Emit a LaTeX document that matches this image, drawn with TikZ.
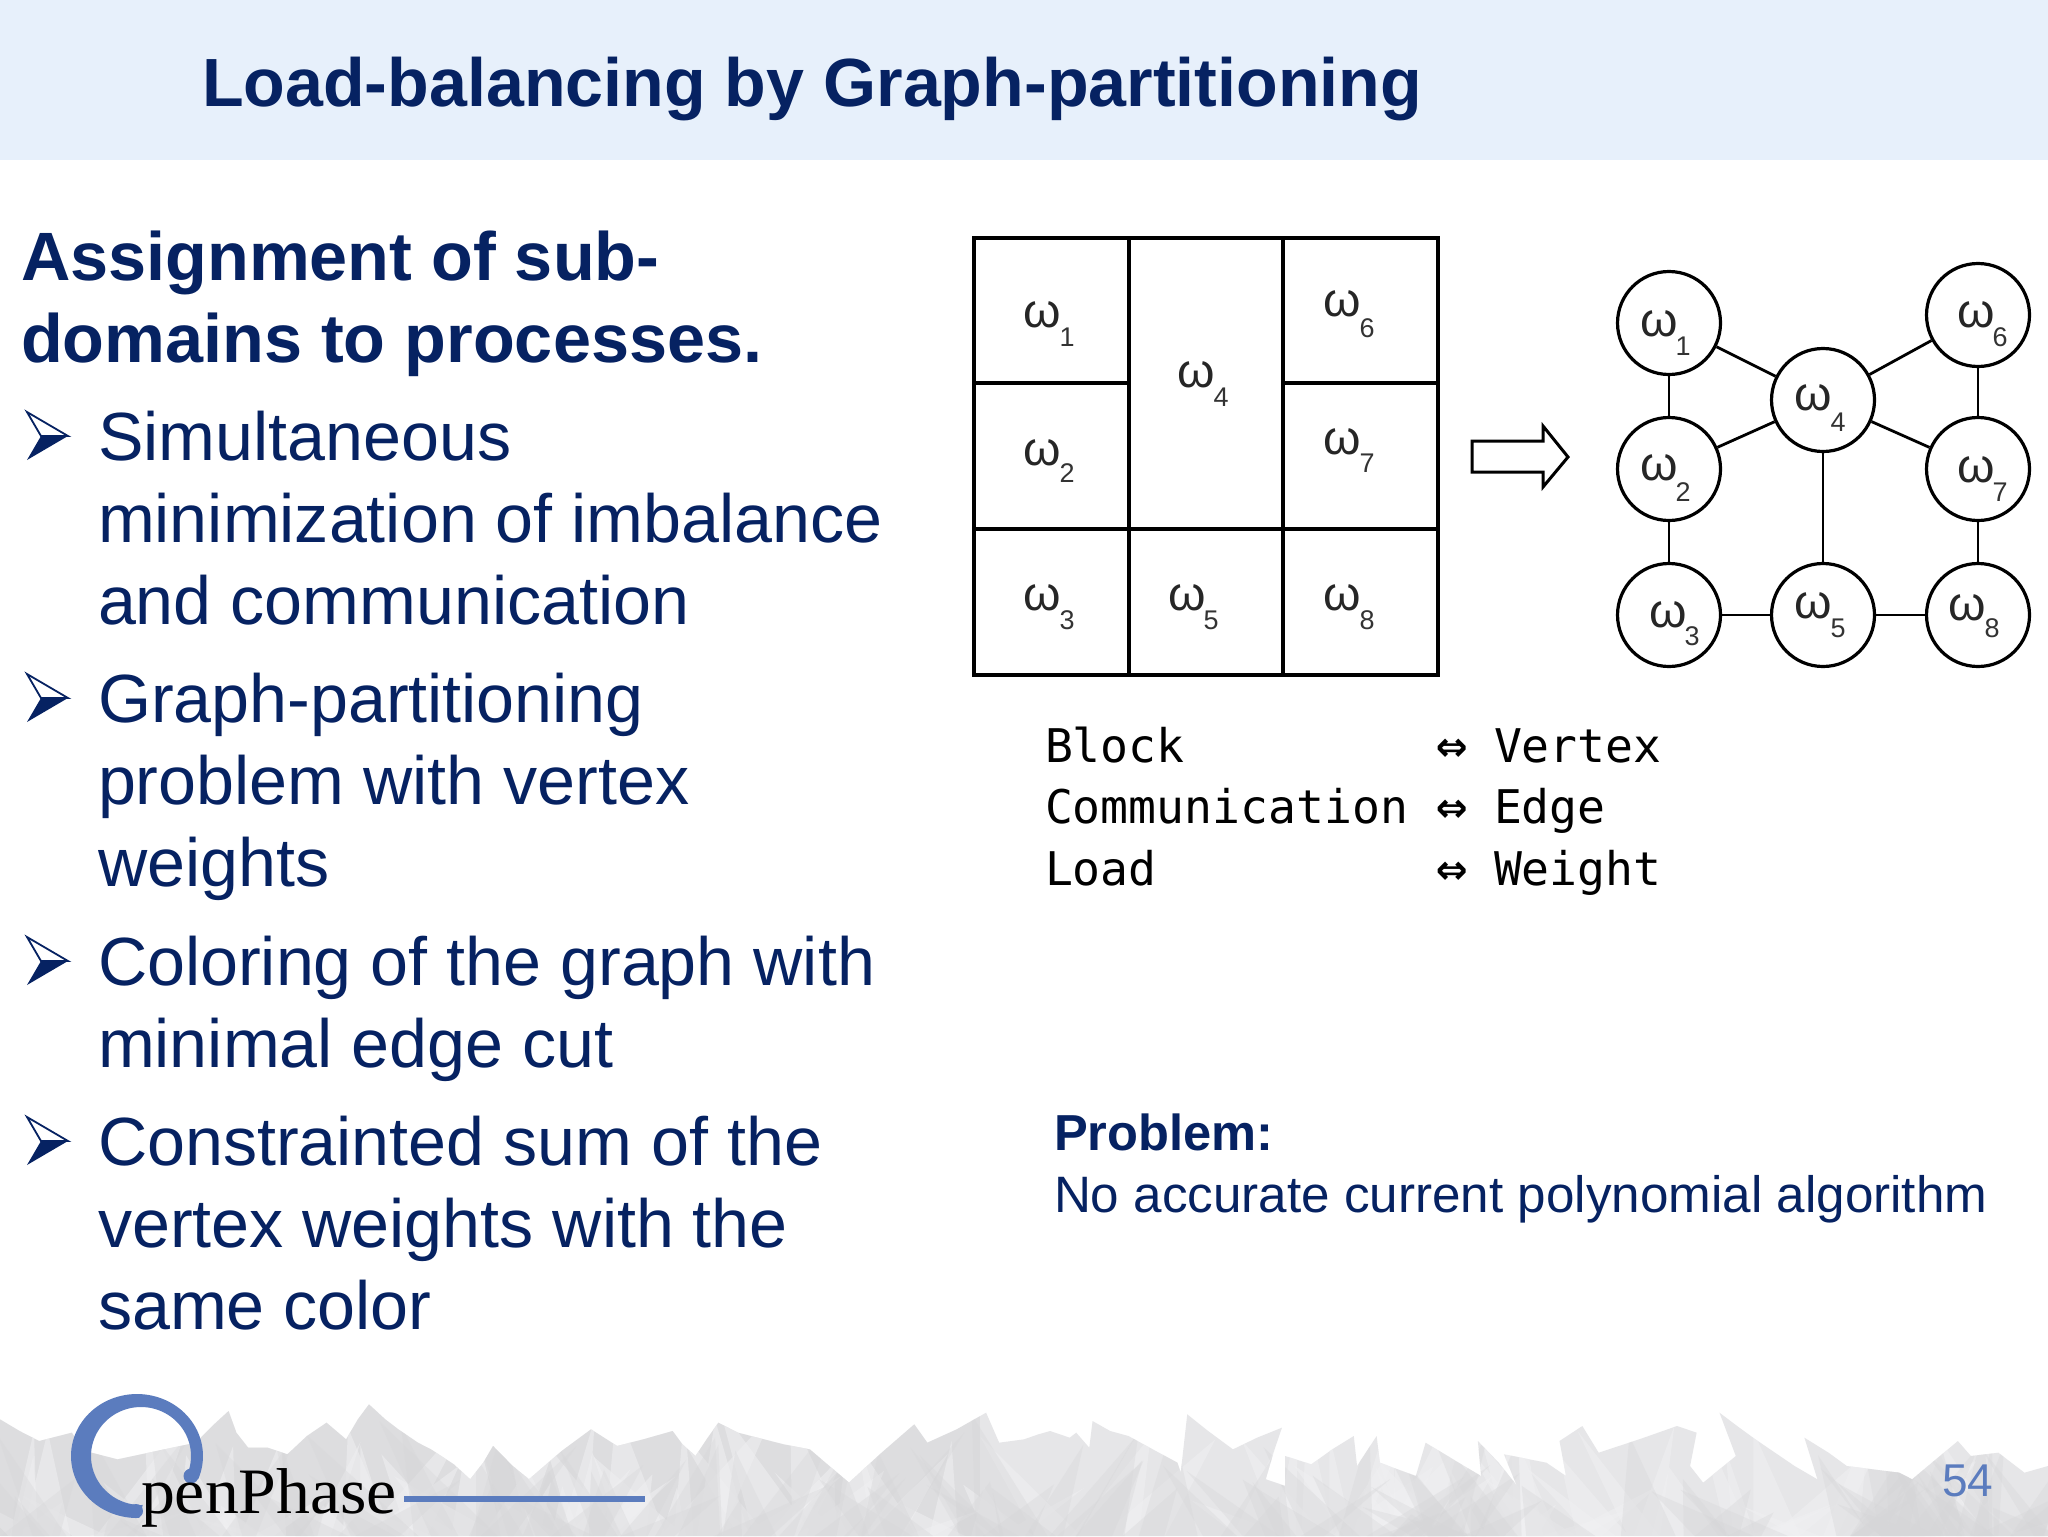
\documentclass[tikz,border=0pt]{standalone}
\usepackage{fontspec}
\setmainfont{Liberation Sans}
\newfontfamily\monof{DejaVu Sans Mono}
\newfontfamily\seriff{Liberation Serif}
\definecolor{navy}{HTML}{062262}
\definecolor{band}{HTML}{E7F0FB}
\definecolor{logoblue}{HTML}{5B7CBE}
\definecolor{grassA}{HTML}{E6E6E8}
\definecolor{grassB}{HTML}{D6D6D8}
\definecolor{grassC}{HTML}{F0F0F2}
\newcommand{\pxfont}[2]{\fontsize{#1}{#2}\selectfont}
\tikzset{
  txt/.style={anchor=base west,inner sep=0pt,outer sep=0pt},
  bodytext/.style={txt,text=navy,font=\pxfont{34.1}{41}},
  headtext/.style={txt,text=navy,font=\pxfont{34.2}{41}\bfseries},
  tabtext/.style={txt,text=black,font=\monof\pxfont{23.2}{29}},
  arrowtext/.style={anchor=base,inner sep=0pt,text=black,font=\monof\pxfont{26}{29}\bfseries},
  probtext/.style={txt,text=navy,font=\pxfont{25.6}{31}},
  cell/.style={draw=black,line width=1.8pt,rectangle,inner sep=0pt,outer sep=0pt,anchor=north west},
  vertex/.style={draw=black,line width=1.6pt,circle,fill=white,minimum size=103*0.5pt,inner sep=0pt},
  edgeline/.style={draw=black,line width=1.4pt},
  omega/.style={inner sep=0pt,font=\pxfont{24}{24},text=black!85},
  digit/.style={inner sep=0pt,font=\pxfont{13.5}{14},text=black!80},
}
\newcommand{\wlab}[6]{\node[omega] (#1w) at (#2,#3) {ω};\node[digit] (#1d) at (#4,#5) {#6};}
\newcommand{\bulletmark}[1]{%
  \begin{scope}[shift={(0,#1)}]
    \fill[navy] (27,-1) -- (41,-25) -- (68,-25) -- cycle;
    \draw[navy,line width=0.9pt,line join=miter] (27,-49) -- (68,-25) -- (41,-25) -- cycle;
  \end{scope}}
\def\grasspath{(0,130)--(30,165)--(60,195)--(110,170)--(122,205)--(140,230)--(180,250)--(240,225)--(300,200)--(325,150)--(350,105)--(362,170)--(380,215)--(410,215)--(440,235)--(470,180)--(500,140)--(530,190)--(548,130)--(565,85)--(590,130)--(610,160)--(640,200)--(660,220)--(695,265)--(720,310)--(740,260)--(755,210)--(785,270)--(810,310)--(860,225)--(905,160)--(945,210)--(985,190)--(1030,165)--(1045,205)--(1065,240)--(1082,190)--(1100,140)--(1130,170)--(1160,185)--(1200,205)--(1240,220)--(1270,270)--(1300,320)--(1350,230)--(1400,145)--(1420,200)--(1465,160)--(1510,110)--(1530,200)--(1568,190)
--(1590,175)--(1608,165)--(1638,185)--(1648,170)--(1668,215)--(1673,135)--(1700,165)--(1728,180)--(1770,225)--(1803,260)--(1808,290)--(1818,115)--(1850,165)--(1888,220)--(1925,185)--(1963,155)--(1950,230)--(1938,310)--(1968,330)--(1968,240)--(2008,265)--(2040,220)--(2073,180)--(2078,270)--(2108,180)--(2113,260)--(2140,280)--(2168,300)--(2183,200)--(2225,250)--(2268,300)--(2263,195)--(2295,260)--(2323,330)--(2303,235)--(2368,260)--(2398,300)--(2388,195)--(2423,150)--(2448,230)--(2510,190)--(2568,150)--(2598,170)--(2588,270)--(2608,320)--(2658,240)--(2633,110)--(2660,150)--(2688,190)--(2748,270)--(2783,310)--(2763,185)--(2800,230)--(2828,270)--(2908,290)--(2928,310)--(2998,195)--(3018,240)--(3060,230)--(3100,290)--(3136,270)--(3136,480)--(0,480)--cycle}
\begin{document}
\begin{tikzpicture}[x=0.5pt,y=-0.5pt]
\useasboundingbox (0,0) rectangle (2048,1536);
\fill[white] (0,0) rectangle (2048,1536);
\fill[band] (0,0) rectangle (2048,160);

% grass
\pgfmathsetseed{11}
\begin{scope}[shift={(0,1376)},x=0.32653pt,y=-0.16667pt]
\clip \grasspath;
\fill[grassA] (0,0) rectangle (3136,480);
\fill[grassB,opacity=0.5] (0,0) rectangle (1500,480);
\foreach \i in {1,...,240} {
  \pgfmathsetmacro{\bx}{random(0,3136)}
  \pgfmathsetmacro{\blean}{random(-130,130)}
  \pgfmathsetmacro{\btop}{random(90,420)}
  \pgfmathsetmacro{\bw}{random(14,55)}
  \pgfmathsetmacro{\bk}{random(0,2)}
  \ifnum\i<120
    \fill[grassC,opacity=0.55] ({\bx-\bw},480) -- ({\bx+\blean},\btop) -- ({\bx+\bw},480) -- cycle;
  \else
    \fill[grassB,opacity=0.35] ({\bx-\bw},480) -- ({\bx+\blean},\btop) -- ({\bx+\bw},480) -- cycle;
  \fi
}
\end{scope}

% title
\node[txt,text=navy,font=\pxfont{34.1}{35}\bfseries] (title) at (202,106) {Load-balancing by Graph-partitioning};

% left text
\node[headtext] (h1) at (21,280) {Assignment of sub-};
\node[headtext] (h2) at (21,362) {domains to processes.};
\foreach \yy in {461,723,986,1166} {\bulletmark{\yy}}
\node[bodytext] (b1) at (98,460) {Simultaneous};
\node[bodytext] (b2) at (98,542) {minimization of imbalance};
\node[bodytext] (b3) at (98,624) {and communication};
\node[bodytext] (b4) at (98,722) {Graph-partitioning};
\node[bodytext] (b5) at (98,804) {problem with vertex};
\node[bodytext] (b6) at (98,886) {weights};
\node[bodytext] (b7) at (98,985) {Coloring of the graph with};
\node[bodytext] (b8) at (98,1067) {minimal edge cut};
\node[bodytext] (b9) at (98,1165) {Constrainted sum of the};
\node[bodytext] (b10) at (98,1247) {vertex weights with the};
\node[bodytext] (b11) at (98,1329) {same color};

% grid
\newcommand{\gridcell}[5]{\node[cell,minimum width=#4*0.5pt,minimum height=#5*0.5pt] (#1) at (#2,#3) {};}
\gridcell{c1}{974}{238}{155}{145}
\gridcell{c2}{974}{383}{155}{146}
\gridcell{c3}{974}{529}{155}{146}
\gridcell{c4}{1129}{238}{154}{291}
\gridcell{c5}{1129}{529}{154}{146}
\gridcell{c6}{1283}{238}{155}{145}
\gridcell{c7}{1283}{383}{155}{146}
\gridcell{c8}{1283}{529}{155}{146}
\wlab{g1}{1042}{315}{1067}{337}{1}
\wlab{g2}{1042}{453}{1067}{473}{2}
\wlab{g3}{1042}{598}{1067}{620}{3}
\wlab{g4}{1196}{375}{1221}{397}{4}
\wlab{g5}{1187}{598}{1211}{620}{5}
\wlab{g6}{1342}{304}{1367}{328}{6}
\wlab{g7}{1342}{442}{1367}{463}{7}
\wlab{g8}{1342}{598}{1367}{620}{8}

% block arrow
\draw[black,line width=1.5pt,fill=white,line join=miter] (1472,441)--(1543,441)--(1543,426)--(1568,457)--(1543,487)--(1543,472)--(1472,472)--cycle;

% graph
\node[vertex] (v1) at (1669,323) {};
\node[vertex] (v2) at (1669,469) {};
\node[vertex] (v3) at (1669,615) {};
\node[vertex] (v4) at (1823,400) {};
\node[vertex] (v5) at (1823,615) {};
\node[vertex] (v6) at (1978,315) {};
\node[vertex] (v7) at (1978,469) {};
\node[vertex] (v8) at (1978,615) {};
\draw[edgeline] (v1)--(v2);
\draw[edgeline] (v2)--(v3);
\draw[edgeline] (v3)--(v5);
\draw[edgeline] (v5)--(v8);
\draw[edgeline] (v1)--(v4);
\draw[edgeline] (v2)--(v4);
\draw[edgeline] (v4)--(v5);
\draw[edgeline] (v4)--(v6);
\draw[edgeline] (v4)--(v7);
\draw[edgeline] (v6)--(v7);
\draw[edgeline] (v7)--(v8);
\wlab{n1}{1659}{324}{1683}{346}{1}
\wlab{n2}{1659}{468}{1683}{492}{2}
\wlab{n3}{1668}{615}{1692}{636}{3}
\wlab{n4}{1813}{398}{1838}{422}{4}
\wlab{n5}{1813}{606}{1838}{628}{5}
\wlab{n6}{1976}{315}{2000}{337}{6}
\wlab{n7}{1976}{470}{2000}{492}{7}
\wlab{n8}{1967}{608}{1992}{628}{8}

% table
\node[tabtext] (t1) at (1045,762) {Block};
\node[tabtext] (t2) at (1045,823) {Communication};
\node[tabtext] (t3) at (1045,885) {Load};
\node[arrowtext] (a1) at (1452,762) {⇔};
\node[arrowtext] (a2) at (1452,823) {⇔};
\node[arrowtext] (a3) at (1452,885) {⇔};
\node[tabtext] (r1) at (1494,762) {Vertex};
\node[tabtext] (r2) at (1494,823) {Edge};
\node[tabtext] (r3) at (1494,885) {Weight};

% problem
\node[probtext,font=\pxfont{25.3}{31}\bfseries] (p1) at (1054,1150) {Problem:};
\node[probtext] (p2) at (1054,1212) {No accurate current polynomial algorithm};

% logo
\fill[logoblue] plot[domain=22:-272,samples=90] ({137+66*cos(\x)},{1456+62*sin(\x)})
  -- plot[domain=-272:22,samples=90] ({141+50*cos(\x)},{1456+49*sin(\x)}) -- cycle;
\fill[logoblue] (191,1476) circle[radius=7.5];
\fill[logoblue] (136,1511) circle[radius=7];
\node[txt,text=black,font=\seriff\pxfont{30}{30},xscale=1.13,yscale=1.08,transform shape] (logo) at (141,1513) {penPhase};
\coordinate (la) at (404,1499);
\coordinate (lb) at (645,1499);
\draw[logoblue,line width=3.2pt] (la)--(lb);

% page number
\node[txt,text=logoblue,font=\pxfont{23}{23}] (pg) at (1942,1496) {54};
\end{tikzpicture}
\end{document}
